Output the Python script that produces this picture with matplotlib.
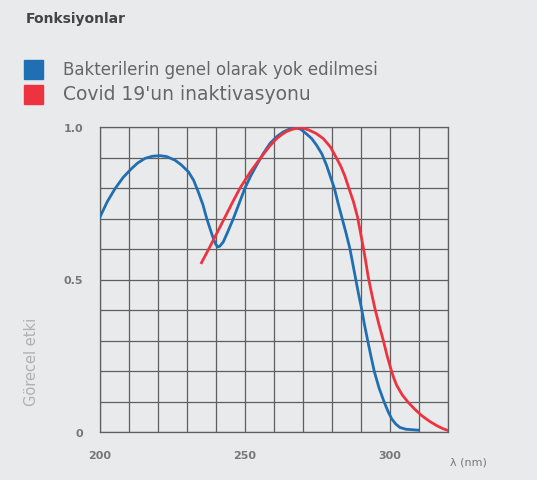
import matplotlib
matplotlib.use("Agg")
import matplotlib.pyplot as plt
from matplotlib.patches import Rectangle

# ---- data ----
blue_nm = [200, 202.5, 205.2, 208, 210.9, 213, 215.5, 218, 220.7, 223, 225.9, 228, 230.5, 232.3,
           233.9, 235.5, 236.8, 238, 239.1, 240, 240.6, 241.3, 242.5, 244, 246, 248, 250, 252,
           254, 256.3, 258.6, 261, 263.2, 265.5, 267.5, 269.3, 271, 273, 274.7, 276.5, 278.1,
           279.7, 280.8, 282.1, 283.5, 284.9, 286.2, 287.2, 288.1, 289.1, 290.2, 291.2, 292.3,
           293.4, 294.6, 296.2, 298.0, 299.3, 300.6, 302, 303.4, 305.5, 309.8]
blue_val = [0.705, 0.755, 0.798, 0.835, 0.864, 0.882, 0.897, 0.904, 0.906, 0.903, 0.891, 0.876, 0.853, 0.825,
            0.787, 0.745, 0.70, 0.665, 0.634, 0.614, 0.607, 0.609, 0.623, 0.655, 0.70, 0.75, 0.80, 0.84,
            0.875, 0.913, 0.946, 0.969, 0.984, 0.994, 0.998, 0.992, 0.979, 0.962, 0.94, 0.912, 0.875,
            0.83, 0.80, 0.75, 0.70, 0.65, 0.60, 0.55, 0.505, 0.455, 0.404, 0.352, 0.30,
            0.25, 0.198, 0.145, 0.098, 0.068, 0.043, 0.026, 0.015, 0.009, 0.006]

red_nm = [235.0, 237.5, 240.2, 243.4, 245.8, 248.3, 252, 255.5, 258.3, 260.9, 262.8, 264.5, 266.5,
          268.5, 270.3, 272, 274.5, 277, 279.5, 281.6, 283.0, 284.4, 285.8, 287.4, 288.8, 289.8,
          290.8, 291.7, 292.5, 293.6, 294.8, 296.2, 297.7, 299.0, 300.3, 301.3, 302.3, 304.2,
          306.3, 308.5, 310.9, 313.5, 316.1, 318.0, 320.0]
red_val = [0.555, 0.60, 0.65, 0.71, 0.755, 0.80, 0.855, 0.90, 0.935, 0.962, 0.976, 0.986, 0.993,
           0.997, 0.996, 0.99, 0.979, 0.962, 0.934, 0.897, 0.872, 0.84, 0.80, 0.755, 0.705, 0.655,
           0.605, 0.555, 0.508, 0.457, 0.405, 0.352, 0.30, 0.25, 0.207, 0.177, 0.153, 0.122,
           0.097, 0.075, 0.054, 0.036, 0.021, 0.012, 0.005]

x_ticks = list(range(200, 321, 10))
x_labels = ["200", "", "", "", "", "250", "", "", "", "", "300", "", ""]
y_ticks = [i / 10 for i in range(11)]
y_labels = ["0", "", "", "", "", "0.5", "", "", "", "", "1.0"]

series_names = ["Bakterilerin genel olarak yok edilmesi", "Covid 19'un inaktivasyonu"]
blue = "#1f6fb2"
red = "#ee3340"
bg = "#e9eaec"

fig = plt.figure(figsize=(5.37, 4.81), dpi=100, facecolor=bg)
ax = fig.add_axes([100 / 537, 1 - 433 / 481, 348 / 537, 305 / 481])
ax.set_facecolor(bg)

ax.plot(blue_nm, blue_val, color=blue, lw=2.0, solid_joinstyle="round", zorder=3)
ax.plot(red_nm, red_val, color=red, lw=2.0, solid_joinstyle="round", zorder=3)

ax.set_xlim(200, 320)
ax.set_ylim(0, 1.0)
ax.set_xticks(x_ticks)
ax.set_xticklabels(x_labels)
ax.set_yticks(y_ticks)
ax.set_yticklabels(y_labels)
ax.tick_params(length=0, colors="#777777", labelsize=8)
ax.tick_params(axis="x", pad=13)
ax.tick_params(axis="y", pad=12)
for lab in ax.get_xticklabels() + ax.get_yticklabels():
    lab.set_fontweight("bold")
ax.grid(True, color="#5f5f5f", lw=0.9)
for s in ax.spines.values():
    s.set_color("#5f5f5f")
    s.set_linewidth(0.9)

# y label
fig.text(32 / 537, 1 - 362 / 481, "Görecel etki", rotation=90, color="#b0b0b0",
         fontsize=10.5, ha="center", va="center")
# x unit label
fig.text(450 / 537, 1 - 463 / 481, "λ (nm)", color="#777777", fontsize=8,
         ha="left", va="center")

# title
fig.text(26 / 537, 1 - 19 / 481, "Fonksiyonlar", color="#444444", fontsize=10,
         fontweight="bold", ha="left", va="center")

# legend
for i, (name, col) in enumerate(zip(series_names, [blue, red])):
    yc = 70 + i * 25
    fig.patches.append(Rectangle((24 / 537, 1 - (yc + 9.5) / 481), 19 / 537, 19 / 481,
                                 transform=fig.transFigure, color=col, figure=fig))
    fig.text(63 / 537, 1 - yc / 481, name, color="#666666", fontsize=12 if i == 0 else 13.5,
             ha="left", va="center")

fig.savefig("out.png", dpi=100, facecolor=bg)
